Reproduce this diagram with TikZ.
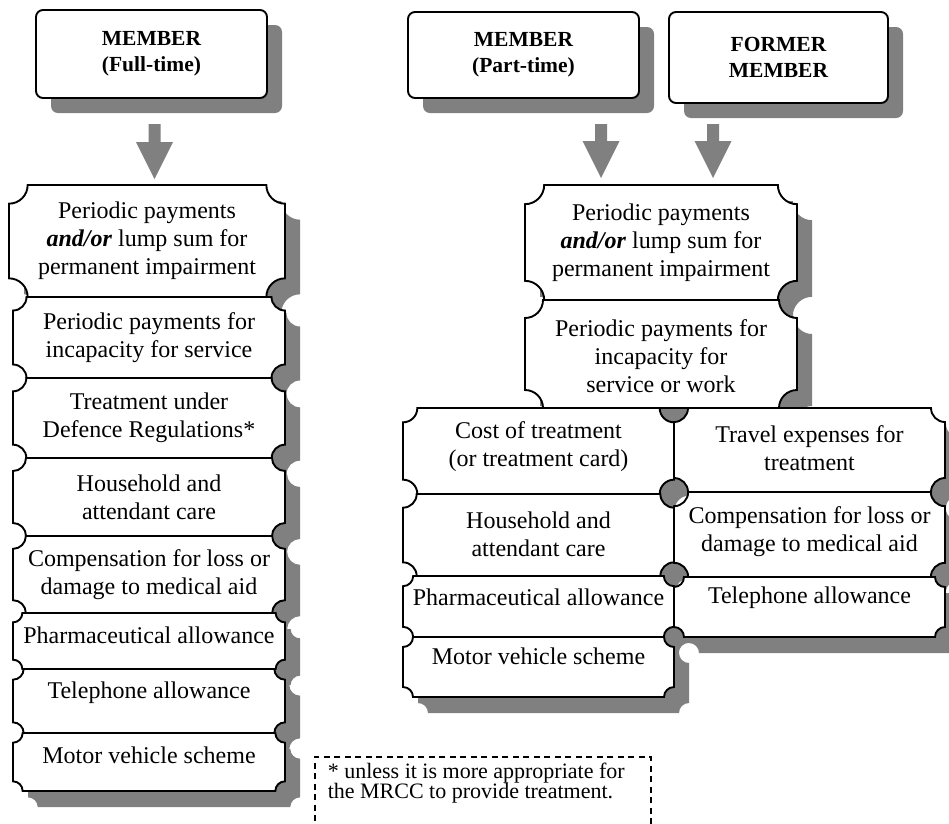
\documentclass[tikz,border=0pt]{standalone}
\usepackage{fontspec}
\setmainfont{Liberation Serif}
\usetikzlibrary{calc,shadows}

\definecolor{shadowgrey}{RGB}{128,128,128}

\pgfdeclarelayer{shadow}
\pgfdeclarelayer{plaques}
\pgfsetlayers{shadow,plaques,main}

\tikzset{
  cell/.style={align=center, inner sep=0pt, font=\fontsize{24}{28}\selectfont},
  plaqueline/.style={fill=white, draw=black, line width=1.9pt},
  plaqueshade/.style={fill=shadowgrey, shift={(15,16)}},
  header/.style={draw=black, fill=white, line width=1.9pt, rounded corners=7pt,
    align=center, inner sep=0pt, font=\bfseries\fontsize{21.5}{26}\selectfont,
    drop shadow={shadow xshift=15pt, shadow yshift=-15pt, fill=shadowgrey, opacity=1}},
  note/.style={draw=black, line width=1.5pt, dash pattern=on 6pt off 4.5pt,
    inner xsep=13pt, inner ysep=6pt, font=\fontsize{22}{20.5}\selectfont}
}

% ticket-shaped outline with concave quarter-circle corners
% #1 style, #2 left, #3 top, #4 right, #5 bottom (y grows downwards)
\newcommand\plaqueoutline[5]{%
  \path[#1] (#2+\pqr,#3) -- (#4-\pqr,#3)
    arc[start angle=180, end angle=90, radius=\pqr]
    -- (#4,#5-\pqr) arc[start angle=270, end angle=180, radius=\pqr]
    -- (#2+\pqr,#5) arc[start angle=0, end angle=-90, radius=\pqr]
    -- (#2,#3+\pqr) arc[start angle=90, end angle=0, radius=\pqr] -- cycle;}

% [#1 text raise] #2 name, #3 left, #4 top, #5 right, #6 bottom, #7 text
\newcommand\plaque[7][0]{%
  \pgfmathsetmacro\pqr{min(#5-#3,#6-#4)/6}%
  \begin{pgfonlayer}{shadow}\plaqueoutline{plaqueshade}{#3}{#4}{#5}{#6}\end{pgfonlayer}%
  \begin{pgfonlayer}{plaques}\plaqueoutline{plaqueline}{#3}{#4}{#5}{#6}\end{pgfonlayer}%
  \node[cell] (#2) at ({(#3+#5)/2},{(#4+#6)/2-#1}) {#7};}

% wide grey block arrow from #1 (top of shaft) to #2 (tip)
\newcommand\blockarrow[2]{%
  \fill[shadowgrey] let \p1=(#1), \p2=(#2) in
    (\x1-6pt,\y1) -- (\x1+6pt,\y1) -- (\x1+6pt,\y2+37pt) -- (\x1+18.5pt,\y2+37pt)
    -- (\x2,\y2) -- (\x1-18.5pt,\y2+37pt) -- (\x1-6pt,\y2+37pt) -- cycle;}

\newcommand\andor{\textbf{\textit{and/or}}}

\begin{document}
\begin{tikzpicture}[x=1pt, y=-1pt]
\useasboundingbox (0,0) rectangle (949,823);

% entitlement groups
\node[header, minimum width=231pt, minimum height=88pt] (hL) at (151.5,54) {MEMBER\\(Full-time)};
\node[header, minimum width=231pt, minimum height=86pt] (hP) at (523.5,55) {MEMBER\\(Part-time)};
\node[header, minimum width=219pt, minimum height=91pt] (hF) at (778.5,57.5) {FORMER\\MEMBER};

% full-time member benefits
\plaque{l1}{9}{185}{285}{297}{Periodic payments\\\andor{} lump sum for\\permanent impairment}
\plaque{l2}{13}{297}{285}{378}{Periodic payments for\\incapacity for service}
\plaque{l3}{13}{378}{285}{458}{Treatment under\\Defence Regulations*}
\plaque{l4}{13}{458}{285}{536}{Household and\\attendant care}
\plaque{l5}{13}{536}{285}{613}{Compensation for loss or\\damage to medical aid}
\plaque[6]{l6}{13}{613}{285}{669}{Pharmaceutical allowance}
\plaque[8]{l7}{13}{669}{285}{733}{Telephone allowance}
\plaque[7]{l8}{13}{733}{285}{791}{Motor vehicle scheme}

% part-time and former member benefits
\plaque{r1}{525}{185}{797}{300}{Periodic payments\\\andor{} lump sum for\\permanent impairment}
\plaque[-2]{r2}{525}{300}{797}{408}{Periodic payments for\\incapacity for\\service or work}
\plaque[4]{c1}{403}{408}{674}{494}{Cost of treatment\\(or treatment card)}
\plaque[1]{c2}{403}{494}{674}{576}{Household and\\attendant care}
\plaque[9]{c3}{403}{576}{674}{637}{Pharmaceutical allowance}
\plaque[11]{c4}{403}{637}{674}{697}{Motor vehicle scheme}
\plaque[2]{d1}{674}{408}{945}{492}{Travel expenses for\\treatment}
\plaque[3]{d2}{674}{492}{945}{577}{Compensation for loss or\\damage to medical aid}
\plaque[9]{d3}{674}{577}{945}{637}{Telephone allowance}

% arrows
\coordinate (aL1) at (154.5,124); \coordinate (aL2) at (154.5,179);
\coordinate (aP1) at (601,124);   \coordinate (aP2) at (601,178);
\coordinate (aF1) at (713,124);   \coordinate (aF2) at (713,178);
\blockarrow{aL1}{aL2}
\blockarrow{aP1}{aP2}
\blockarrow{aF1}{aF2}

% footnote
\node[note, anchor=north west] (fn) at (314,756)
  {\parbox[t][66pt][t]{310pt}{\raggedright * unless it is more appropriate for\\the MRCC to provide treatment.}};
\end{tikzpicture}
\end{document}
